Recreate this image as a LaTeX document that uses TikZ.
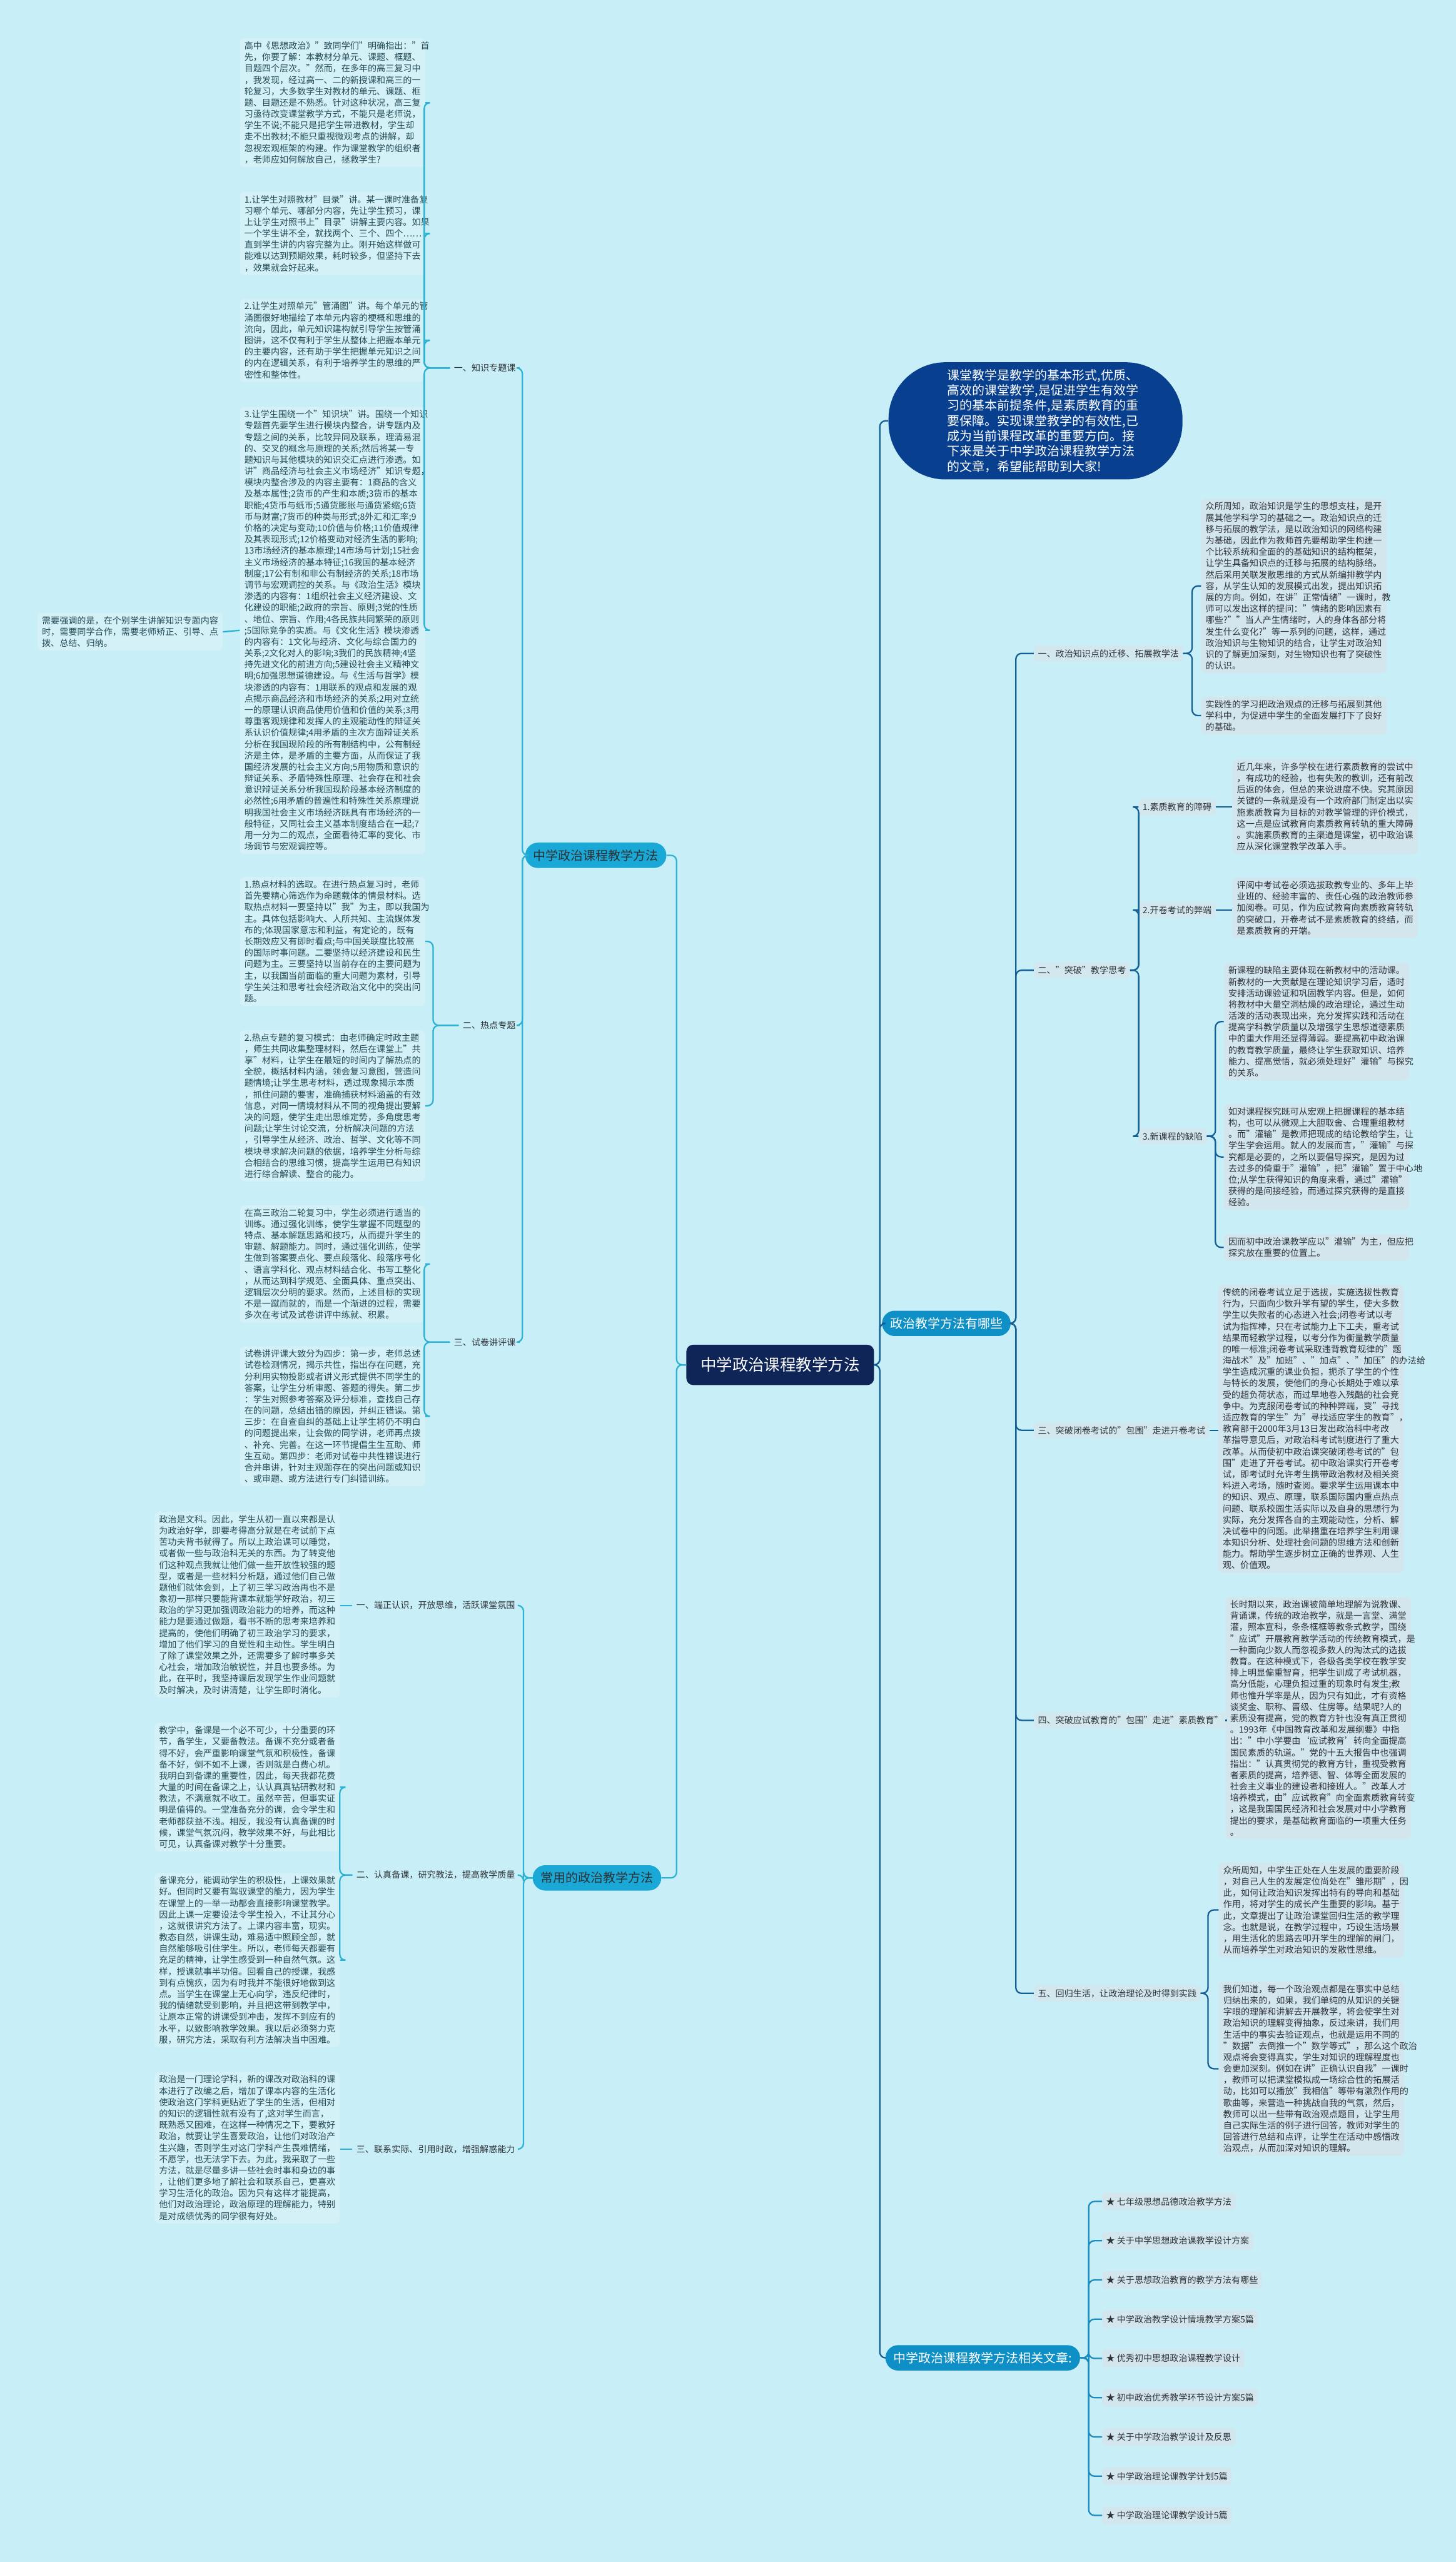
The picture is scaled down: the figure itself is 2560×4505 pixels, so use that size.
\documentclass[tikz,border=0pt]{standalone}
\usepackage{fontspec}
\setmainfont{Noto Sans CJK SC}
\usetikzlibrary{positioning}

\definecolor{bg}{HTML}{C8EEF7}
\definecolor{lboxfill}{HTML}{D4F1F8}
\definecolor{rboxfill}{HTML}{D3E6EE}
\definecolor{labfill}{HTML}{D3E7EF}
\definecolor{ltext}{HTML}{234A55}
\definecolor{rtext}{HTML}{2E3338}
\definecolor{lline}{HTML}{2CB3D4}
\definecolor{rline}{HTML}{135F94}
\definecolor{bline}{HTML}{1A8BBF}
\definecolor{rootfill}{HTML}{0F2557}
\definecolor{introfill}{HTML}{083F8F}
\definecolor{brfill}{HTML}{1AA8D6}
\definecolor{relfill}{HTML}{0E8FC5}

\newcommand\bodyfont{\fontsize{15.5}{20}\selectfont}

\tikzset{
  lbox/.style={rounded corners=8pt, fill=lboxfill, text=ltext, font=\bodyfont,
    text width=310pt, align=left, inner xsep=8pt, inner ysep=6pt},
  rbox/.style={lbox, fill=rboxfill, text=rtext},
  lab/.style={rounded corners=6pt, fill=labfill, text=rtext, font=\bodyfont,
    inner xsep=7pt, inner ysep=7pt},
  llab/.style={lab, fill=none},
  branch/.style={rounded corners=22pt, fill=brfill, text=rtext,
    font=\fontsize{22}{26}\selectfont, inner xsep=14pt, inner ysep=12pt},
  relbranch/.style={branch, fill=relfill, text=white},
  llink/.style={draw=lline, line width=2.5pt, rounded corners=10pt},
  rlink/.style={draw=rline, line width=2.5pt, rounded corners=10pt},
  blink/.style={draw=bline, line width=2.5pt, rounded corners=10pt},
  item/.style={lab, fill=rboxfill, inner ysep=8pt},
}

\begin{document}
\begin{tikzpicture}[x=1pt,y=-1pt]
\fill[bg] (0,0) rectangle (2560,4505);
\useasboundingbox (0,0) rectangle (2560,4505);

% centre and intro
\node[rounded corners=12pt, fill=rootfill, text=white, font=\fontsize{28}{32}\selectfont,
  minimum width=330pt, minimum height=71pt] (root) at (1372,2400) {中学政治课程教学方法};
\node[fill=introfill, text=white, rounded corners=100pt, minimum width=517pt, minimum height=206pt,
  text width=310pt, align=left, font=\fontsize{22}{26.8}\selectfont] (intro) at (1821,740)
  {课堂教学是教学的基本形式,优质、\\高效的课堂教学,是促进学生有效学\\习的基本前提条件,是素质教育的重\\要保障。实现课堂教学的有效性,已\\成为当前课程改革的重要方向。接\\下来是关于中学政治课程教学方法\\的文章，希望能帮助到大家!};

% main branches
\node[branch, anchor=east] (brL1) at (1172,1504) {中学政治课程教学方法};
\node[branch, anchor=east] (brL2) at (1163,3302) {常用的政治教学方法};
\node[relbranch, anchor=west] (brR) at (1551,2327) {政治教学方法有哪些};
\node[relbranch, anchor=west] (brRel) at (1557,4146) {中学政治课程教学方法相关文章:};

\draw[rlink] (root.east) -- ++(10,0) |- (intro.west);
\draw[rlink] (root.east) -- ++(10,0) |- (brR.west);
\draw[rlink] (root.east) -- ++(10,0) |- (brRel.west);
\draw[llink] (root.west) -- ++(-17,0) |- (brL1.east);
\draw[llink] (root.west) -- ++(-17,0) |- (brL2.east);

% left: 中学政治课程教学方法
\node[llab, anchor=east] (kLab) at (914,647) {一、知识专题课};
\node[llab, anchor=east] (hLab) at (914,1803) {二、热点专题};
\node[llab, anchor=east] (tLab) at (914,2360) {三、试卷讲评课};
\foreach \n in {kLab,hLab,tLab}
  \draw[llink] (brL1.west) -- ++(-5,0) |- (\n.east);

\node[lbox, anchor=north east] (k1) at (748,67)
  {高中《思想政治》"致同学们"明确指出："首\\先，你要了解：本教材分单元、课题、框题、\\目题四个层次。"然而，在多年的高三复习中\\，我发现，经过高一、二的新授课和高三的一\\轮复习，大多数学生对教材的单元、课题、框\\题、目题还是不熟悉。针对这种状况，高三复\\习亟待改变课堂教学方式，不能只是老师说，\\学生不说;不能只是把学生带进教材，学生却\\走不出教材;不能只重视微观考点的讲解，却\\忽视宏观框架的构建。作为课堂教学的组织者\\，老师应如何解放自己，拯救学生?};
\node[lbox, anchor=north east] (k2) at (748,337)
  {1.让学生对照教材"目录"讲。某一课时准备复\\习哪个单元、哪部分内容，先让学生预习，课\\上让学生对照书上"目录"讲解主要内容。如果\\一个学生讲不全，就找两个、三个、四个……\\直到学生讲的内容完整为止。刚开始这样做可\\能难以达到预期效果，耗时较多，但坚持下去\\，效果就会好起来。};
\node[lbox, anchor=north east] (k3) at (748,525)
  {2.让学生对照单元"管涌图"讲。每个单元的管\\涌图很好地描绘了本单元内容的梗概和思维的\\流向，因此，单元知识建构就引导学生按管涌\\图讲，这不仅有利于学生从整体上把握本单元\\的主要内容，还有助于学生把握单元知识之间\\的内在逻辑关系，有利于培养学生的思维的严\\密性和整体性。};
\node[lbox, anchor=north east] (k4) at (748,715)
  {3.让学生围绕一个"知识块"讲。围绕一个知识\\专题首先要学生进行模块内整合，讲专题内及\\专题之间的关系，比较异同及联系，理清易混\\的、交叉的概念与原理的关系;然后将某一专\\题知识与其他模块的知识交汇点进行渗透。如\\讲"商品经济与社会主义市场经济"知识专题，\\模块内整合涉及的内容主要有：1商品的含义\\及基本属性;2货币的产生和本质;3货币的基本\\职能;4货币与纸币;5通货膨胀与通货紧缩;6货\\币与财富;7货币的种类与形式;8外汇和汇率;9\\价格的决定与变动;10价值与价格;11价值规律\\及其表现形式;12价格变动对经济生活的影响;\\13市场经济的基本原理;14市场与计划;15社会\\主义市场经济的基本特征;16我国的基本经济\\制度;17公有制和非公有制经济的关系;18市场\\调节与宏观调控的关系。与《政治生活》模块\\渗透的内容有：1组织社会主义经济建设、文\\化建设的职能;2政府的宗旨、原则;3党的性质\\、地位、宗旨、作用;4各民族共同繁荣的原则\\;5国际竞争的实质。与《文化生活》模块渗透\\的内容有：1文化与经济、文化与综合国力的\\关系;2文化对人的影响;3我们的民族精神;4坚\\持先进文化的前进方向;5建设社会主义精神文\\明;6加强思想道德建设。与《生活与哲学》模\\块渗透的内容有：1用联系的观点和发展的观\\点揭示商品经济和市场经济的关系;2用对立统\\一的原理认识商品使用价值和价值的关系;3用\\尊重客观规律和发挥人的主观能动性的辩证关\\系认识价值规律;4用矛盾的主次方面辩证关系\\分析在我国现阶段的所有制结构中，公有制经\\济是主体，是矛盾的主要方面，从而保证了我\\国经济发展的社会主义方向;5用物质和意识的\\辩证关系、矛盾特殊性原理、社会存在和社会\\意识辩证关系分析我国现阶段基本经济制度的\\必然性;6用矛盾的普遍性和特殊性关系原理说\\明我国社会主义市场经济既具有市场经济的一\\般特征，又同社会主义基本制度结合在一起;7\\用一分为二的观点，全面看待汇率的变化、市\\场调节与宏观调控等。};
\node[lbox, anchor=east] (kNote) at (392,1111)
  {需要强调的是，在个别学生讲解知识专题内容\\时，需要同学合作，需要老师矫正、引导、点\\拨、总结、归纳。};
\foreach \n in {k1,k2,k3,k4}
  \draw[llink] (kLab.west) -- ++(-45,0) |- (\n.east);
\draw[llink] (k4.west) -- (kNote.east);

\node[lbox, anchor=north east] (h1) at (748,1542)
  {1.热点材料的选取。在进行热点复习时，老师\\首先要精心筛选作为命题载体的情景材料。选\\取热点材料一要坚持以"我"为主，即以我国为\\主。具体包括影响大、人所共知、主流媒体发\\布的;体现国家意志和利益，有定论的，既有\\长期效应又有即时看点;与中国关联度比较高\\的国际时事问题。二要坚持以经济建设和民生\\问题为主。三要坚持以当前存在的主要问题为\\主，以我国当前面临的重大问题为素材，引导\\学生关注和思考社会经济政治文化中的突出问\\题。};
\node[lbox, anchor=north east] (h2) at (748,1811)
  {2.热点专题的复习模式：由老师确定时政主题\\，师生共同收集整理材料，然后在课堂上"共\\享"材料，让学生在最短的时间内了解热点的\\全貌，概括材料内涵，领会复习意图，营造问\\题情境;让学生思考材料，透过现象揭示本质\\，抓住问题的要害，准确捕获材料涵盖的有效\\信息，对同一情境材料从不同的视角提出要解\\决的问题，使学生走出思维定势，多角度思考\\问题;让学生讨论交流，分析解决问题的方法\\，引导学生从经济、政治、哲学、文化等不同\\模块寻求解决问题的依据，培养学生分析与综\\合相结合的思维习惯，提高学生运用已有知识\\进行综合解读、整合的能力。};
\foreach \n in {h1,h2}
  \draw[llink] (hLab.west) -- ++(-45,0) |- (\n.east);

\node[lbox, anchor=north east] (t1) at (748,2119)
  {在高三政治二轮复习中，学生必须进行适当的\\训练。通过强化训练，使学生掌握不同题型的\\特点、基本解题思路和技巧，从而提升学生的\\审题、解题能力。同时，通过强化训练，使学\\生做到答案要点化、要点段落化、段落序号化\\、语言学科化、观点材料结合化、书写工整化\\，从而达到科学规范、全面具体、重点突出、\\逻辑层次分明的要求。然而，上述目标的实现\\不是一蹴而就的，而是一个渐进的过程，需要\\多次在考试及试卷讲评中练就、积累。};
\node[lbox, anchor=north east] (t2) at (748,2367)
  {试卷讲评课大致分为四步：第一步，老师总述\\试卷检测情况，揭示共性，指出存在问题，充\\分利用实物投影或者讲义形式提供不同学生的\\答案，让学生分析审题、答题的得失。第二步\\：学生对照参考答案及评分标准，查找自己存\\在的问题，总结出错的原因，并纠正错误。第\\三步：在自查自纠的基础上让学生将仍不明白\\的问题提出来，让会做的同学讲，老师再点拨\\、补充、完善。在这一环节提倡生生互助、师\\生互动。第四步：老师对试卷中共性错误进行\\合并串讲，针对主观题存在的突出问题或知识\\、或审题、或方法进行专门纠错训练。};
\foreach \n in {t1,t2}
  \draw[llink] (tLab.west) -- ++(-45,0) |- (\n.east);

% left: 常用的政治教学方法
\node[llab, anchor=east] (cLab1) at (913,2823) {一、端正认识，开放思维，活跃课堂氛围};
\node[llab, anchor=east] (cLab2) at (913,3297) {二、认真备课，研究教法，提高教学质量};
\node[llab, anchor=east] (cLab3) at (913,3779) {三、联系实际、引用时政，增强解惑能力};
\foreach \n in {cLab1,cLab2,cLab3}
  \draw[llink] (brL2.west) -- ++(-16,0) |- (\n.east);

\node[lbox, anchor=north east] (c1) at (598,2658)
  {政治是文科。因此，学生从初一直以来都是认\\为政治好学，即要考得高分就是在考试前下点\\苦功夫背书就得了。所以上政治课可以睡觉，\\或者做一些与政治科无关的东西。为了转变他\\们这种观点我就让他们做一些开放性较强的题\\型，或者是一些材料分析题，通过他们自己做\\题他们就体会到，上了初三学习政治再也不是\\象初一那样只要能背课本就能学好政治，初三\\政治的学习更加强调政治能力的培养，而这种\\能力是要通过做题，看书不断的思考来培养和\\提高的，使他们明确了初三政治学习的要求，\\增加了他们学习的自觉性和主动性。学生明白\\了除了课堂效果之外，还需要多了解时事多关\\心社会，增加政治敏锐性，并且也要多练。为\\此，在平时，我坚持课后发现学生作业问题就\\及时解决，及时讲清楚，让学生即时消化。};
\node[lbox, anchor=north east] (c2a) at (598,3029)
  {教学中，备课是一个必不可少，十分重要的环\\节，备学生，又要备教法。备课不充分或者备\\得不好，会严重影响课堂气氛和积极性，备课\\备不好，倒不如不上课，否则就是白费心机。\\我明白到备课的重要性，因此，每天我都花费\\大量的时间在备课之上，认认真真钻研教材和\\教法，不满意就不收工。虽然辛苦，但事实证\\明是值得的。一堂准备充分的课，会令学生和\\老师都获益不浅。相反，我没有认真备课的时\\候，课堂气氛沉闷，教学效果不好，与此相比\\可见，认真备课对教学十分重要。};
\node[lbox, anchor=north east] (c2b) at (598,3293)
  {备课充分，能调动学生的积极性，上课效果就\\好。但同时又要有驾驭课堂的能力，因为学生\\在课堂上的一举一动都会直接影响课堂教学。\\因此上课一定要设法令学生投入，不让其分心\\，这就很讲究方法了。上课内容丰富，现实。\\教态自然，讲课生动，难易适中照顾全部，就\\自然能够吸引住学生。所以，老师每天都要有\\充足的精神，让学生感受到一种自然气氛。这\\样，授课就事半功倍。回看自己的授课，我感\\到有点愧疚，因为有时我并不能很好地做到这\\点。当学生在课堂上无心向学，违反纪律时，\\我的情绪就受到影响，并且把这带到教学中，\\让原本正常的讲课受到冲击，发挥不到应有的\\水平，以致影响教学效果。我以后必须努力克\\服，研究方法，采取有利方法解决当中困难。};
\node[lbox, anchor=north east] (c3) at (598,3643)
  {政治是一门理论学科，新的课改对政治科的课\\本进行了改编之后，增加了课本内容的生活化\\使政治这门学科更贴近了学生的生活，但相对\\的知识的逻辑性就有没有了,这对学生而言，\\既熟悉又困难，在这样一种情况之下，要教好\\政治，就要让学生喜爱政治，让他们对政治产\\生兴趣，否则学生对这门学科产生畏难情绪，\\不愿学，也无法学下去。为此，我采取了一些\\方法，就是尽量多讲一些社会时事和身边的事\\，让他们更多地了解社会和联系自己，更喜欢\\学习生活化的政治。因为只有这样才能提高，\\他们对政治理论，政治原理的理解能力，特别\\是对成绩优秀的同学很有好处。};
\draw[llink] (cLab1.west) -- (cLab1.west -| c1.east);
\foreach \n in {c2a,c2b}
  \draw[llink] (cLab2.west) -- ++(-22,0) |- (\n.east);
\draw[llink] (cLab3.west) -- (cLab3.west -| c3.east);

% right: 政治教学方法有哪些
\node[lab, anchor=west] (rLab1) at (1818,1149) {一、政治知识点的迁移、拓展教学法};
\node[lab, anchor=west] (rLab2) at (1818,1706) {二、"突破"教学思考};
\node[lab, anchor=west] (rLab3) at (1818,2515) {三、突破闭卷考试的"包围"走进开卷考试};
\node[lab, anchor=west] (rLab4) at (1818,3025) {四、突破应试教育的"包围"走进"素质教育"};
\node[lab, anchor=west] (rLab5) at (1818,3505) {五、回归生活，让政治理论及时得到实践};
\foreach \n in {rLab1,rLab2,rLab3,rLab4,rLab5}
  \draw[rlink] (brR.east) -- ++(9,0) |- (\n.west);

\node[rbox, anchor=north west] (a1) at (2112,877)
  {众所周知，政治知识是学生的思想支柱，是开\\展其他学科学习的基础之一。政治知识点的迁\\移与拓展的教学法，是以政治知识的网络构建\\为基础，因此作为教师首先要帮助学生构建一\\个比较系统和全面的的基础知识的结构框架，\\让学生具备知识点的迁移与拓展的结构脉络。\\然后采用关联发散思维的方式从新编排教学内\\容，从学生认知的发展模式出发，提出知识拓\\展的方向。例如，在讲"正常情绪"一课时，教\\师可以发出这样的提问："情绪的影响因素有\\哪些?""当人产生情绪时，人的身体各部分将\\发生什么变化?"等一系列的问题，这样，通过\\政治知识与生物知识的结合，让学生对政治知\\识的了解更加深刻，对生物知识也有了突破性\\的认识。};
\node[rbox, anchor=north west] (a2) at (2112,1225)
  {实践性的学习把政治观点的迁移与拓展到其他\\学科中，为促进中学生的全面发展打下了良好\\的基础。};
\foreach \n in {a1,a2}
  \draw[rlink] (rLab1.east) -- ++(16,0) |- (\n.west);

\node[lab, anchor=west] (qLab1) at (2002,1419) {1.素质教育的障碍};
\node[lab, anchor=west] (qLab2) at (2002,1600) {2.开卷考试的弊端};
\node[lab, anchor=west] (qLab3) at (2002,1998) {3.新课程的缺陷};
\foreach \n in {qLab1,qLab2,qLab3}
  \draw[rlink] (rLab2.east) -- ++(15,0) |- (\n.west);

\node[rbox, anchor=north west] (q1) at (2167,1335)
  {近几年来，许多学校在进行素质教育的尝试中\\，有成功的经验，也有失败的教训，还有前改\\后返的体会，但总的来说进度不快。究其原因\\关键的一条就是没有一个政府部门制定出以实\\施素质教育为目标的对教学管理的评价模式，\\这一点是应试教育向素质教育转轨的重大障碍\\。实施素质教育的主渠道是课堂，初中政治课\\应从深化课堂教学改革入手。};
\node[rbox, anchor=north west] (q2) at (2167,1543)
  {评阅中考试卷必须选拔政教专业的、多年上毕\\业班的、经验丰富的、责任心强的政治教师参\\加阅卷。可见，作为应试教育向素质教育转轨\\的突破口，开卷考试不是素质教育的终结，而\\是素质教育的开端。};
\draw[rlink] (qLab1.east) -- (qLab1.east -| q1.west);
\draw[rlink] (qLab2.east) -- (qLab2.east -| q2.west);

\node[rbox, anchor=north west] (q3a) at (2152,1693)
  {新课程的缺陷主要体现在新教材中的活动课。\\新教材的一大贡献是在理论知识学习后，适时\\安排活动课验证和巩固教学内容。但是，如何\\将教材中大量空洞枯燥的政治理论，通过生动\\活泼的活动表现出来，充分发挥实践和活动在\\提高学科教学质量以及增强学生思想道德素质\\中的重大作用还显得薄弱。要提高初中政治课\\的教育教学质量，最终让学生获取知识、培养\\能力、提高觉悟，就必须处理好"灌输"与探究\\的关系。};
\node[rbox, anchor=north west] (q3b) at (2152,1941)
  {如对课程探究既可从宏观上把握课程的基本结\\构，也可以从微观上大胆取舍、合理重组教材\\。而"灌输"是教师把现成的结论教给学生，让\\学生学会运用。就人的发展而言，"灌输"与探\\究都是必要的，之所以要倡导探究，是因为过\\去过多的倚重于"灌输"，把"灌输"置于中心地\\位;从学生获得知识的角度来看，通过"灌输"\\获得的是间接经验，而通过探究获得的是直接\\经验。};
\node[rbox, anchor=north west] (q3c) at (2152,2170)
  {因而初中政治课教学应以"灌输"为主，但应把\\探究放在重要的位置上。};
\foreach \n in {q3a,q3b,q3c}
  \draw[rlink] (qLab3.east) -- ++(15,0) |- (\n.west);

\node[rbox, anchor=north west] (r3) at (2142,2259)
  {传统的闭卷考试立足于选拔，实施选拔性教育\\行为，只面向少数升学有望的学生，使大多数\\学生以失败者的心态进入社会;闭卷考试以考\\试为指挥棒，只在考试能力上下工夫，重考试\\结果而轻教学过程，以考分作为衡量教学质量\\的唯一标准;闭卷考试采取违背教育规律的"题\\海战术"及"加班"、"加点"、"加压"的办法给\\学生造成沉重的课业负担，扼杀了学生的个性\\与特长的发展，使他们的身心长期处于难以承\\受的超负荷状态，而过早地卷入残酷的社会竞\\争中。为克服闭卷考试的种种弊端，变"寻找\\适应教育的学生"为"寻找适应学生的教育"，\\教育部于2000年3月13日发出政治科中考改\\革指导意见后，对政治科考试制度进行了重大\\改革。从而使初中政治课突破闭卷考试的"包\\围"走进了开卷考试。初中政治课实行开卷考\\试，即考试时允许考生携带政治教材及相关资\\料进入考场，随时查阅。要求学生运用课本中\\的知识、观点、原理，联系国际国内重点热点\\问题、联系校园生活实际以及自身的思想行为\\实际，充分发挥各自的主观能动性，分析、解\\决试卷中的问题。此举措重在培养学生利用课\\本知识分析、处理社会问题的思维方法和创新\\能力。帮助学生逐步树立正确的世界观、人生\\观、价值观。};
\draw[rlink] (rLab3.east) -- (rLab3.east -| r3.west);

\node[rbox, anchor=north west] (r4) at (2155,2808)
  {长时期以来，政治课被简单地理解为说教课、\\背诵课，传统的政治教学，就是一言堂、满堂\\灌，照本宣科，条条框框等教条式教学，围绕\\"应试"开展教育教学活动的传统教育模式，是\\一种面向少数人而忽视多数人的淘汰式的选拔\\教育。在这种模式下，各级各类学校在教学安\\排上明显偏重智育，把学生训成了考试机器，\\高分低能，心理负担过重的现象时有发生;教\\师也惟升学率是从，因为只有如此，才有资格\\谈奖金、职称、晋级、住房等。结果呢?人的\\素质没有提高，党的教育方针也没有真正贯彻\\。1993年《中国教育改革和发展纲要》中指\\出："中小学要由‘应试教育’转向全面提高\\国民素质的轨道。"党的十五大报告中也强调\\指出："认真贯彻党的教育方针，重视受教育\\者素质的提高，培养德、智、体等全面发展的\\社会主义事业的建设者和接班人。"改革人才\\培养模式，由"应试教育"向全面素质教育转变\\，这是我国国民经济和社会发展对中小学教育\\提出的要求，是基础教育面临的一项重大任务\\。};
\draw[rlink] (rLab4.east) -- (rLab4.east -| r4.west);

\node[rbox, anchor=north west] (r5a) at (2143,3275)
  {众所周知，中学生正处在人生发展的重要阶段\\，对自己人生的发展定位尚处在"雏形期"，因\\此，如何让政治知识发挥出特有的导向和基础\\作用，将对学生的成长产生重要的影响。基于\\此，文章提出了让政治课堂回归生活的教学理\\念。也就是说，在教学过程中，巧设生活场景\\，用生活化的思路去叩开学生的理解的闸门，\\从而培养学生对政治知识的发散性思维。};
\node[rbox, anchor=north west] (r5b) at (2143,3484)
  {我们知道，每一个政治观点都是在事实中总结\\归纳出来的，如果，我们单纯的从知识的关键\\字眼的理解和讲解去开展教学，将会使学生对\\政治知识的理解变得抽象，反过来讲，我们用\\生活中的事实去验证观点，也就是运用不同的\\"数据"去倒推一个"数学等式"，那么这个政治\\观点将会变得真实，学生对知识的理解程度也\\会更加深刻。例如在讲"正确认识自我"一课时\\，教师可以把课堂模拟成一场综合性的拓展活\\动，比如可以播放"我相信"等带有激烈作用的\\歌曲等，来营造一种挑战自我的气氛，然后，\\教师可以出一些带有政治观点题目，让学生用\\自己实际生活的例子进行回答，教师对学生的\\回答进行总结和点评，让学生在活动中感悟政\\治观点，从而加深对知识的理解。};
\foreach \n in {r5a,r5b}
  \draw[rlink] (rLab5.east) -- ++(13,0) |- (\n.west);

% related articles
\foreach \t [count=\i] in {七年级思想品德政治教学方法,关于中学思想政治课教学设计方案,
  关于思想政治教育的教学方法有哪些,中学政治教学设计情境教学方案5篇,优秀初中思想政治课程教学设计,
  初中政治优秀教学环节设计方案5篇,关于中学政治教学设计及反思,中学政治理论课教学计划5篇,
  中学政治理论课教学设计5篇}{
  \node[item, anchor=west] (it\i) at (1938,3802+69*\i) {★ \t};
  \draw[blink] (brRel.east) -- ++(15,0) |- (it\i.west);
}
\end{tikzpicture}
\end{document}
